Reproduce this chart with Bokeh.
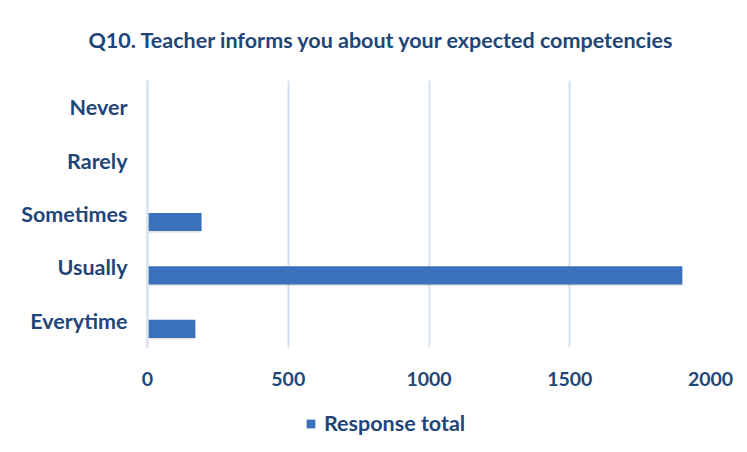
from bokeh.plotting import figure
from bokeh.layouts import column
from bokeh.models import Range1d, FixedTicker, Legend, LegendItem, ColumnDataSource
from bokeh.transform import dodge
from bokeh.embed import file_html
from bokeh.resources import INLINE

categories = ["Everytime", "Usually", "Sometimes", "Rarely", "Never"]
response_total = [170, 1900, 192, 0, 0]
x_ticks = [0, 500, 1000, 1500, 2000]
title_text = "Q10. Teacher informs you about  your expected competencies"
series_name = "Response total"

TXT = "#1F4678"
FONT = "Lato"
BAR = "#3A71BA"
GRID = "#D5E0F0"

ypos = list(range(len(categories)))
src = ColumnDataSource(dict(y=ypos, v=response_total, cat=categories))

p = figure(width=739, height=400, output_backend="svg", toolbar_location=None,
           x_range=Range1d(0, 2000), y_range=Range1d(-0.5, len(categories) - 0.5),
           min_border_left=147, min_border_right=29, min_border_top=75, min_border_bottom=53)
p.outline_line_color = None
p.background_fill_color = "white"

# soft shadow under bars
p.hbar(y=dodge("y", -0.2, range=p.y_range), right="v", left=0, height=0.3, source=src,
       fill_color="#000000", fill_alpha=0.10, line_color=None)
r = p.hbar(y=dodge("y", -0.15, range=p.y_range), right="v", left=0, height=0.34, source=src,
           fill_color=BAR, line_color=None)

p.title.text = title_text
p.title.align = "left"
p.title.offset = -59
p.title.vertical_align = "top"
p.title.text_font = FONT
p.title.text_font_size = "21.5px"
p.title.text_color = TXT
p.title.text_font_style = "bold"
p.title.standoff = 52

# x axis
p.xaxis.ticker = FixedTicker(ticks=x_ticks)
p.xaxis.axis_line_color = None
p.xaxis.major_tick_line_color = None
p.xaxis.minor_tick_line_color = None
p.xaxis.major_label_text_font = FONT
p.xaxis.major_label_text_font_size = "19.5px"
p.xaxis.major_label_text_font_style = "bold"
p.xaxis.major_label_text_color = TXT
p.xaxis.major_label_standoff = 18

# y axis
p.yaxis.ticker = FixedTicker(ticks=ypos)
p.yaxis.major_label_overrides = {y: c for y, c in zip(ypos, categories)}
p.yaxis.axis_line_color = GRID
p.yaxis.axis_line_width = 2.5
p.yaxis.major_tick_line_color = None
p.yaxis.minor_tick_line_color = None
p.yaxis.major_label_text_font = FONT
p.yaxis.major_label_text_font_size = "21.5px"
p.yaxis.major_label_text_font_style = "bold"
p.yaxis.major_label_text_color = TXT
p.yaxis.major_label_standoff = 14

p.xgrid.grid_line_color = GRID
p.xgrid.grid_line_width = 2
p.ygrid.grid_line_color = None

# legend strip below the chart (frame aligned with the main chart's frame);
# its bars fall outside this strip's y range, so only the legend shows
lf = figure(width=739, height=36, output_backend="svg", toolbar_location=None,
            x_range=Range1d(0, 2000), y_range=Range1d(100, 101),
            min_border_left=0, min_border_right=0, min_border_top=0, min_border_bottom=0)
lf.axis.visible = False
lf.grid.visible = False
lf.outline_line_color = None
lr = lf.hbar(y="y", right="v", left=0, height=0.34, source=src,
             fill_color=BAR, line_color=None)

legend = Legend(items=[LegendItem(label=series_name, renderers=[lr])],
                location=(158, 0), orientation="horizontal",
                label_text_font=FONT, label_text_font_size="21.5px",
                label_text_font_style="bold", label_text_color=TXT,
                glyph_width=11, glyph_height=11, label_standoff=8,
                border_line_color=None, background_fill_alpha=0,
                margin=0, padding=0)
lf.add_layout(legend, "center")

layout = column(p, lf, spacing=0)
open("out.html", "w").write(file_html(layout, INLINE))
